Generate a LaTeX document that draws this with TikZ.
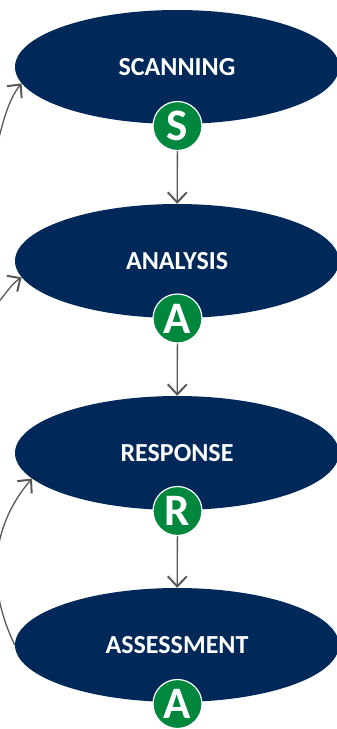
\documentclass[tikz,border=0pt]{standalone}
\usepackage{fontspec}
\setmainfont{Carlito}
\usetikzlibrary{shapes.geometric,arrows.meta}
\definecolor{navy}{RGB}{0,41,90}
\definecolor{sgreen}{RGB}{0,135,62}
\definecolor{arrgray}{RGB}{89,89,89}
\tikzset{
  stage/.style={ellipse, fill=navy, minimum width=324pt, minimum height=114pt, inner sep=0pt,
    text=white, font=\fontsize{26}{28}\selectfont\bfseries},
  badge/.style={circle, fill=sgreen, draw=white, line width=1.2pt, minimum size=49pt, inner sep=0pt,
    text=white, font=\fontsize{45}{46}\selectfont\bfseries},
  arr/.style={draw=arrgray, line width=1.3pt, -{Straight Barb[length=10pt,width=19pt,line width=2pt]}}
}
\begin{document}
\begin{tikzpicture}[x=1pt,y=-1pt]
\clip (0,0) rectangle (337,729);
\fill[white] (0,0) rectangle (337,729);
\node[stage] (e1) at (177,67) {SCANNING};
\node[stage] (e2) at (177,261) {ANALYSIS};
\node[stage] (e3) at (177,453) {RESPONSE};
\node[stage] (e4) at (177,645) {ASSESSMENT};
\node[badge] (c1) at (177.5,126) {S};
\node[badge] (c2) at (177.5,318.5) {A};
\node[badge] (c3) at (177.5,511) {R};
\node[badge] (c4) at (177.5,704) {A};
\draw[arr] (c1) -- (e2);
\draw[arr] (c2) -- (e3);
\draw[arr] (c3) -- (e4);
\coordinate (s1) at (-4,150);
\coordinate (s2) at (-6,307);
\draw[arr] (s1) .. controls (2,125) and (8,100) .. (e1.186);
\draw[arr] (s2) .. controls (4,297) and (10,285) .. (e2.186);
\draw[arr] (e4.west) .. controls (-12,590) and (-12,530) .. (e3.190);
\end{tikzpicture}
\end{document}
